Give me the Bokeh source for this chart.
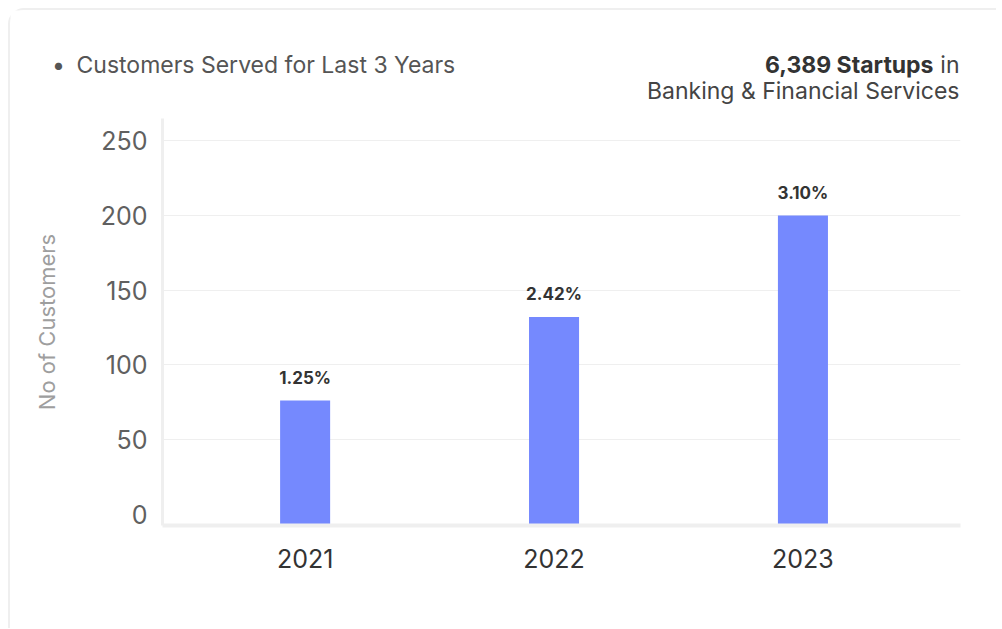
from bokeh.plotting import figure
from bokeh.layouts import column
from bokeh.models import Range1d, FixedTicker, ColumnDataSource, LabelSet
from bokeh.core.properties import value
from bokeh.embed import file_html
from bokeh.resources import INLINE

# ---- data ----
years = ["2021", "2022", "2023"]
customers = [76, 132, 200]
growth = ["1.25%", "2.42%", "3.10%"]
y_ticks = [0, 50, 100, 150, 200, 250]
grid_ticks = [50, 100, 150, 200, 250]
title_text = "Customers Served for Last 3 Years"
startups_bold = "6,389 Startups"
startups_rest = "in"
sector_text = "Banking & Financial Services"
y_label = "No of Customers"

FONT = "Inter"
xs = list(range(len(years)))

Y0, Y1 = -7.7, 265.0
X0, X1 = -0.573, 2.633
W, HEAD_H, MAIN_H = 986, 108, 510

# ---- header (texts above the chart) ----
h = figure(width=W, height=HEAD_H, output_backend="svg", toolbar_location=None,
           x_range=Range1d(0, W), y_range=Range1d(HEAD_H, 0),
           min_border=0, min_border_left=0, min_border_right=0,
           min_border_top=0, min_border_bottom=0)
h.frame_align = False
h.axis.visible = False
h.grid.visible = False
h.outline_line_color = None
h.background_fill_color = "white"
h.border_fill_color = "white"

def htext(x, y, text, align="left", color="#555555", style="normal", x_offset=0):
    h.text(x=[x], y=[y], text=[text], text_align=align, text_baseline="alphabetic",
           text_font=value(FONT), text_font_size=value("23px"), text_font_style=style,
           text_color=color, x_offset=x_offset)

htext(48, 54.5, "\u2022", align="center")
htext(66, 54.5, title_text)
htext(949, 54.5, startups_rest, align="right", color="#444444")
htext(949, 54.5, startups_bold, align="right", color="#333333", style="bold", x_offset=-26)
htext(949, 80, sector_text, align="right", color="#444444")

# ---- main chart ----
p = figure(width=W, height=MAIN_H, output_backend="svg", toolbar_location=None,
           x_range=Range1d(X0, X1), y_range=Range1d(Y0, Y1),
           min_border_left=152, min_border_right=36, min_border_top=0, min_border_bottom=103)
p.frame_align = False
p.outline_line_color = None
p.background_fill_color = "white"
p.border_fill_color = "white"

src = ColumnDataSource(dict(x=xs, top=customers, label=growth))
p.vbar(x="x", top="top", bottom=Y0, width=0.201, source=src,
       fill_color="#7589fe", line_color=None)

labels = LabelSet(x="x", y="top", text="label", source=src, y_offset=17,
                  text_align="center", text_baseline="alphabetic",
                  text_font=value(FONT), text_font_size=value("17px"), text_font_style="bold",
                  text_color="#333333")
p.add_layout(labels)

p.xaxis.ticker = FixedTicker(ticks=xs)
p.xaxis.major_label_overrides = {i: y for i, y in enumerate(years)}
p.yaxis.ticker = FixedTicker(ticks=y_ticks)
for ax in (p.xaxis[0], p.yaxis[0]):
    ax.axis_line_color = "#efefef"
    ax.major_tick_line_color = None
    ax.minor_tick_line_color = None
    ax.major_label_text_font = FONT
    ax.major_label_text_font_size = "25px"
p.xaxis.axis_line_width = 4
p.yaxis.axis_line_width = 3
p.xaxis.major_label_text_color = "#333333"
p.yaxis.major_label_text_color = "#606060"
p.xaxis.major_label_standoff = 17
p.yaxis.major_label_standoff = 9

p.yaxis.axis_label = y_label
p.yaxis.axis_label_text_font = FONT
p.yaxis.axis_label_text_font_size = "22px"
p.yaxis.axis_label_text_font_style = "normal"
p.yaxis.axis_label_text_color = "#9e9e9e"
p.yaxis.axis_label_standoff = 38

p.xgrid.grid_line_color = None
p.ygrid.ticker = FixedTicker(ticks=grid_ticks)
p.ygrid.grid_line_color = "#efefef"
p.ygrid.grid_line_width = 1

layout = column(h, p, spacing=0,
                styles={"margin-top": "8px", "margin-left": "8px",
                        "border-top": "2px solid #efefef", "border-left": "2px solid #efefef",
                        "border-top-left-radius": "16px", "background": "white"})

open("out.html", "w").write(file_html(layout, INLINE))
